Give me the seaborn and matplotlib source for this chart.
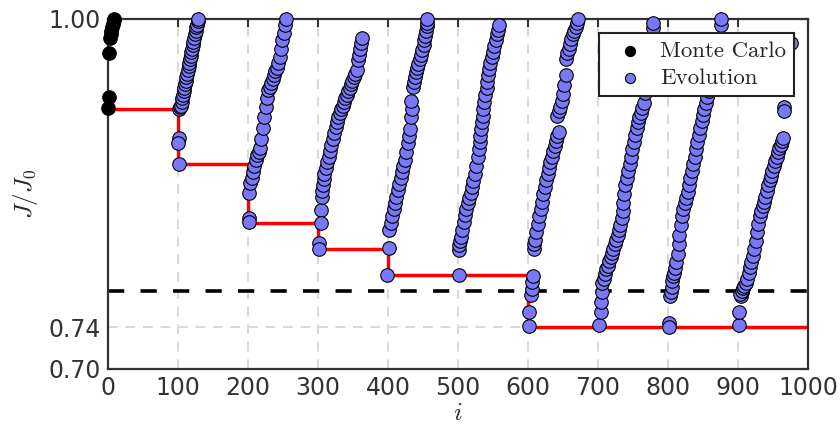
import matplotlib
matplotlib.use("Agg")
import matplotlib.pyplot as plt
import seaborn as sns
import pandas as pd

# ---------------- data ----------------
mc_i = [0, 1, 2, 3, 4, 5, 6, 7, 8, 9]
mc_J = [0.925, 0.934, 0.971, 0.984, 0.987, 0.990, 0.993, 0.996, 0.999, 1.000]

gen1_i = [101, 100, 101, 102, 103, 104, 105, 106, 107, 108, 109, 110, 111, 112, 113, 114, 115, 116,
          117, 118, 119, 120, 121, 122, 123, 124, 125, 126, 127, 128, 129]
gen1_J = [0.900, 0.895, 0.878, 0.924, 0.926, 0.927, 0.930, 0.933, 0.936, 0.939, 0.942, 0.945, 0.948,
          0.951, 0.954, 0.957, 0.960, 0.963, 0.966, 0.969, 0.972, 0.975, 0.978, 0.981, 0.984, 0.987,
          0.990, 0.993, 0.995, 0.998, 1.000]

gen2_i = [201, 201, 202, 203, 205, 207, 209, 211, 213, 215, 217, 219, 221, 223, 225, 227, 229, 231,
          233, 235, 237, 239, 241, 243, 245, 247, 249, 251, 253, 254]
gen2_J = [0.832, 0.829, 0.853, 0.862, 0.866, 0.871, 0.876, 0.881, 0.885, 0.888, 0.891, 0.899, 0.908,
          0.917, 0.926, 0.933, 0.940, 0.943, 0.946, 0.949, 0.953, 0.956, 0.959, 0.963, 0.968, 0.975,
          0.982, 0.988, 0.995, 1.000]

gen3_i = [304, 304, 301, 301, 305, 306, 307, 308, 309, 311, 313, 315, 317, 319, 321, 323, 325, 327,
          329, 331, 333, 335, 337, 339, 341, 343, 345, 347, 349, 351, 353, 355, 357, 358, 360, 361, 363]
gen3_J = [0.839, 0.828, 0.811, 0.806, 0.850, 0.855, 0.860, 0.865, 0.869, 0.874, 0.879, 0.884, 0.889,
          0.894, 0.899, 0.904, 0.909, 0.913, 0.917, 0.921, 0.924, 0.927, 0.930, 0.933, 0.936, 0.939,
          0.942, 0.945, 0.948, 0.951, 0.954, 0.957, 0.965, 0.970, 0.975, 0.980, 0.984]

gen4_i = [401, 399, 402, 404, 406, 408, 410, 412, 414, 416, 418, 420, 422, 424, 426, 428, 430, 432,
          433, 434, 433, 436, 437, 438, 440, 441, 443, 445, 447, 449, 451, 452, 453, 454, 455, 456, 456]
gen4_J = [0.807, 0.784, 0.822, 0.828, 0.834, 0.840, 0.845, 0.850, 0.856, 0.861, 0.866, 0.871, 0.876,
          0.881, 0.888, 0.895, 0.901, 0.907, 0.917, 0.924, 0.931, 0.943, 0.947, 0.951, 0.955, 0.959,
          0.962, 0.966, 0.970, 0.974, 0.978, 0.982, 0.986, 0.990, 0.994, 0.997, 1.000]

gen5_i = [501, 501, 502, 503, 504, 506, 508, 510, 512, 514, 516, 518, 520, 522, 524, 526, 528, 530,
          531, 532, 533, 534, 535, 536, 537, 539, 541, 542, 543, 544, 546, 548, 550, 552, 554, 556, 557, 558]
gen5_J = [0.784, 0.805, 0.809, 0.813, 0.816, 0.822, 0.829, 0.835, 0.840, 0.845, 0.849, 0.853, 0.858,
          0.863, 0.869, 0.876, 0.884, 0.890, 0.896, 0.901, 0.907, 0.913, 0.918, 0.924, 0.930, 0.936,
          0.942, 0.947, 0.953, 0.958, 0.963, 0.968, 0.972, 0.977, 0.982, 0.987, 0.991, 0.995]

gen6_i = [601, 601, 604, 605, 606, 607, 608, 609, 610, 612, 614, 616, 618, 620, 622, 624, 626, 628,
          630, 632, 634, 636, 638, 640, 642, 644, 642, 644, 646, 648, 650, 652, 654, 654, 656, 658,
          660, 662, 664, 666, 668, 670, 671]
gen6_J = [0.741, 0.753, 0.767, 0.772, 0.778, 0.783, 0.806, 0.810, 0.814, 0.820, 0.827, 0.834, 0.840,
          0.846, 0.852, 0.858, 0.864, 0.869, 0.874, 0.879, 0.884, 0.889, 0.893, 0.897, 0.901, 0.905,
          0.918, 0.922, 0.926, 0.931, 0.937, 0.944, 0.953, 0.966, 0.971, 0.975, 0.979, 0.983, 0.987,
          0.990, 0.993, 0.997, 1.000]

gen7_i = [701, 704, 704, 706, 706, 708, 710, 712, 714, 716, 718, 720, 722, 724, 726, 728, 730, 732,
          734, 735, 736, 737, 739, 741, 743, 745, 747, 749, 751, 753, 755, 757, 759, 761, 763, 765,
          767, 769, 771, 773, 775, 777, 778, 779]
gen7_J = [0.742, 0.753, 0.761, 0.770, 0.777, 0.781, 0.785, 0.789, 0.792, 0.796, 0.799, 0.803, 0.806,
          0.810, 0.814, 0.818, 0.822, 0.826, 0.832, 0.838, 0.845, 0.852, 0.860, 0.866, 0.872, 0.878,
          0.884, 0.890, 0.896, 0.902, 0.908, 0.913, 0.917, 0.921, 0.925, 0.929, 0.938, 0.947, 0.956,
          0.965, 0.974, 0.983, 0.992, 0.997]

gen8_i = [802, 802, 803, 804, 805, 806, 807, 808, 810, 812, 814, 815, 816, 818, 820, 822, 824, 826,
          828, 830, 832, 834, 836, 838, 840, 842, 844, 846, 848, 850, 852, 854, 856, 858, 860, 863,
          866, 869, 872, 875, 875]
gen8_J = [0.744, 0.740, 0.766, 0.770, 0.774, 0.779, 0.783, 0.786, 0.790, 0.795, 0.802, 0.810, 0.818,
          0.826, 0.834, 0.840, 0.845, 0.849, 0.854, 0.860, 0.866, 0.872, 0.878, 0.884, 0.890, 0.896,
          0.902, 0.908, 0.914, 0.919, 0.924, 0.929, 0.934, 0.939, 0.944, 0.952, 0.960, 0.968, 0.976,
          0.995, 1.000]

gen9_i = [901, 902, 904, 906, 903, 905, 907, 909, 911, 913, 915, 917, 919, 921, 923, 925, 927, 929,
          931, 933, 935, 937, 939, 941, 943, 945, 947, 949, 951, 953, 955, 957, 959, 961, 963, 964,
          965, 965, 975]
gen9_J = [0.742, 0.753, 0.766, 0.770, 0.768, 0.771, 0.773, 0.775, 0.777, 0.781, 0.786, 0.791, 0.795,
          0.800, 0.806, 0.813, 0.820, 0.827, 0.834, 0.838, 0.842, 0.846, 0.850, 0.855, 0.860, 0.864,
          0.868, 0.872, 0.876, 0.880, 0.884, 0.888, 0.891, 0.894, 0.897, 0.900, 0.926, 0.922, 0.980]

best_i = [0, 100, 200, 300, 400, 500, 600, 700, 800, 900, 1000]
best_J = [0.924, 0.878, 0.828, 0.806, 0.784, 0.784, 0.740, 0.740, 0.740, 0.740, 0.740]

target_J = 0.771

x_ticks = [0, 100, 200, 300, 400, 500, 600, 700, 800, 900, 1000]
y_ticks = [0.7048, 0.74, 1.00]
y_tick_labels = ["0.70", "0.74", "1.00"]

# ---------------- plot ----------------
sns.set_style("white")
plt.rcParams["font.family"] = ["DejaVu Sans"]
plt.rcParams["mathtext.fontset"] = "cm"

evo = pd.DataFrame({
    "i": gen1_i + gen2_i + gen3_i + gen4_i + gen5_i + gen6_i + gen7_i + gen8_i + gen9_i,
    "J": gen1_J + gen2_J + gen3_J + gen4_J + gen5_J + gen6_J + gen7_J + gen8_J + gen9_J,
})
mc = pd.DataFrame({"i": mc_i, "J": mc_J})
best = pd.DataFrame({"i": best_i, "J": best_J})

fig = plt.figure(figsize=(8.4, 4.3), dpi=100)
ax = fig.add_axes([108 / 840, 61 / 430, 700 / 840, 350 / 430])

sns.lineplot(data=best, x="i", y="J", drawstyle="steps-post", color="red", lw=2.5,
             estimator=None, sort=False, ax=ax, zorder=2, legend=False)
ax.axhline(target_J, color="black", lw=2.6, dashes=(4.5, 4.5), zorder=2.5)

sns.scatterplot(data=mc, x="i", y="J", color="black", s=95, edgecolor="black", linewidth=0.8,
                label="Monte Carlo", clip_on=False, zorder=4, ax=ax)
sns.scatterplot(data=evo, x="i", y="J", color="#7878f8", s=95, edgecolor="black", linewidth=0.8,
                label="Evolution", clip_on=False, zorder=3, ax=ax)

ax.set_xlim(0, 1000)
ax.set_ylim(y_ticks[0], 1.0)
ax.set_xticks(x_ticks)
ax.set_yticks(y_ticks)
ax.set_yticklabels(y_tick_labels)
ax.set_axisbelow(True)
ax.grid(True, color="#d8d8d8", lw=1.4, dashes=(5, 4))

for s in ax.spines.values():
    s.set_color("#333333")
    s.set_linewidth(1.6)
ax.tick_params(direction="in", length=6, width=1.5, top=True, right=True,
               labelsize=17, color="#333333", labelcolor="#333333", pad=5)

ax.set_xlabel("$i$", fontsize=18, labelpad=1)
ax.set_ylabel("$J/J_0$", fontsize=18, labelpad=6)

leg = ax.legend(loc="upper right", prop={"family": "cmr10", "size": 16.5}, frameon=True,
                fancybox=False, framealpha=1, edgecolor="#222222", markerscale=0.75,
                handletextpad=0.3, borderaxespad=0.62, labelspacing=0.3, borderpad=0.35)
leg.get_frame().set_linewidth(1.5)
leg.set_zorder(10)

fig.savefig("out.png", dpi=100)
